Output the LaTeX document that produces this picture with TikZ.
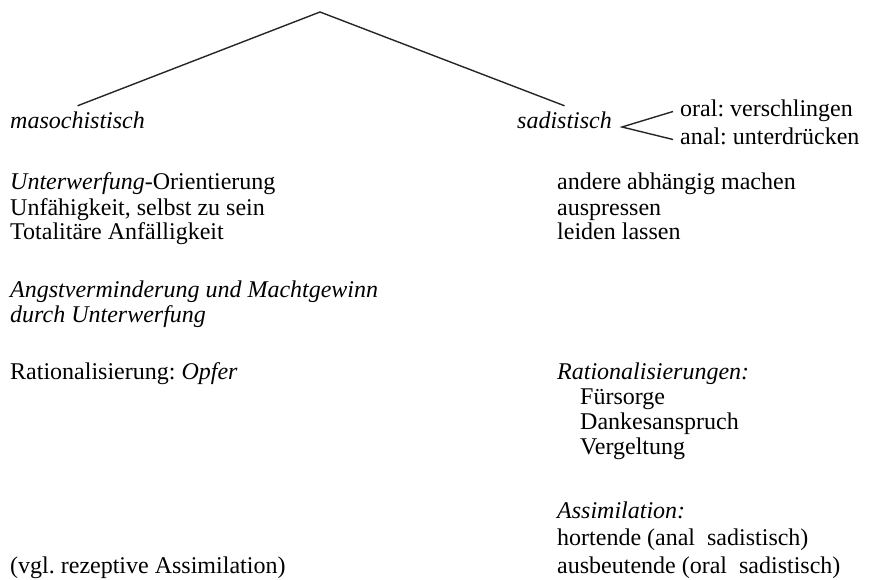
\documentclass[tikz,border=0pt]{standalone}
\usepackage{fontspec}
\setmainfont{Liberation Serif}
\frenchspacing
\begin{document}
\begin{tikzpicture}[x=1pt,y=-1pt,
  txt/.style={anchor=base west,inner sep=0pt,font=\fontsize{24}{28}\selectfont,text height=16pt,text depth=5pt},
  it/.style={txt,font=\fontsize{24}{28}\selectfont\itshape},
  conn/.style={line width=1.4pt,black!85}]
\useasboundingbox (0,0) rectangle (870,580);
\coordinate (apex) at (320,12);
% left column
\node[it]  (maso) at (10,129) {masochistisch};
\node[txt] (l1) at (10,190) {\textit{Unterwerfung}-Orientierung};
\node[txt] (l2) at (10,215) {Unfähigkeit, selbst zu sein};
\node[txt] (l3) at (10,240) {Totalitäre Anfälligkeit};
\node[it]  (l4) at (10,297) {Angstverminderung und Machtgewinn};
\node[it]  (l5) at (10,322) {durch Unterwerfung};
\node[txt] (l6) at (10,379) {Rationalisierung: \textit{Opfer}};
\node[txt] (l7) at (10,573) {(vgl. rezeptive Assimilation)};
% right column
\node[it]  (sad) at (517,129) {sadistisch};
\node[txt] (oral) at (680,117) {oral: verschlingen};
\node[txt] (anal) at (680,145) {anal: unterdrücken};
\node[txt] (r1) at (557,190) {andere abhängig machen};
\node[txt] (r2) at (557,215) {auspressen};
\node[txt] (r3) at (557,240) {leiden lassen};
\node[it]  (r4) at (557,379) {Rationalisierungen:};
\node[txt] (r5) at (580,404) {Fürsorge};
\node[txt] (r6) at (580,429) {Dankesanspruch};
\node[txt] (r7) at (580,454) {Vergeltung};
\node[it]  (r8) at (557,518) {Assimilation:};
\node[txt] (r9) at (557,545) {hortende (anal\ \ sadistisch)};
\node[txt] (r10) at (557,573) {ausbeutende (oral\ \ sadistisch)};
% connectors
\coordinate (fork) at (622,127);
\draw[conn] ([yshift=7pt]maso.north) -- (apex) -- ([yshift=7pt]sad.north);
\draw[conn] ([xshift=-7pt]oral.west) -- (fork) -- ([xshift=-7pt]anal.west);
\end{tikzpicture}
\end{document}
